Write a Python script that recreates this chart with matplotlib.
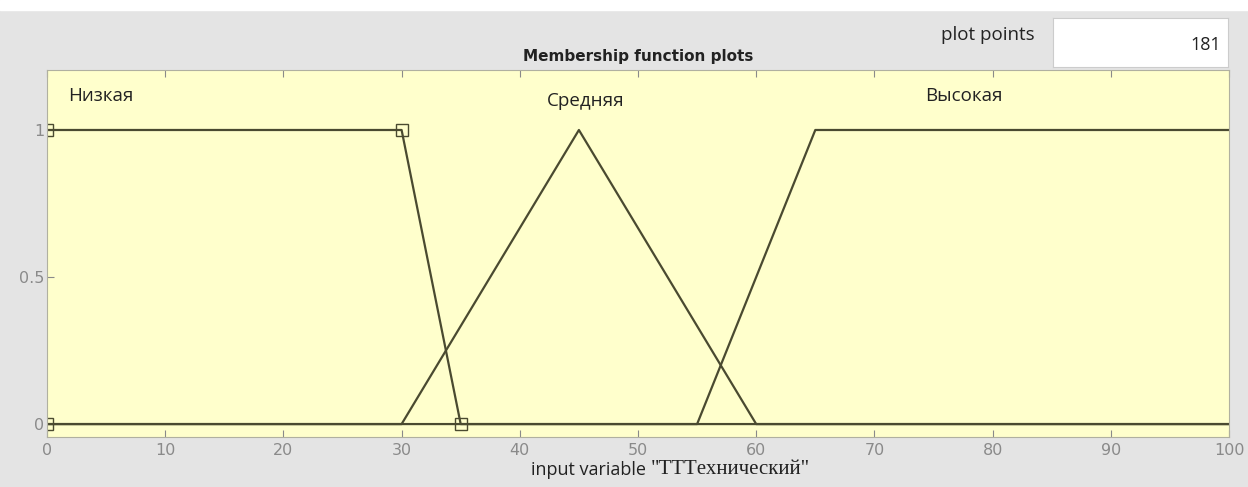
import matplotlib.pyplot as plt

# membership functions of input variable (x breakpoints, y values)
low_x = [0, 0, 30, 35, 100]
low_y = [1, 1, 1, 0, 0]
mid_x = [0, 30, 45, 60, 100]
mid_y = [0, 0, 1, 0, 0]
high_x = [0, 55, 65, 100]
high_y = [0, 0, 1, 1]

# selected MF vertices (shown with square markers)
sel_x = [0, 30, 35, 0]
sel_y = [1, 1, 0, 0]

mf_names = ["Низкая", "Средняя", "Высокая"]
mf_label_x = [1.8, 42.3, 74.3]
mf_label_y = [1.1, 1.08, 1.1]

x_ticks = [0, 10, 20, 30, 40, 50, 60, 70, 80, 90, 100]
y_ticks = [0, 0.5, 1]
y_tick_labels = ["0", "0.5", "1"]

line_color = "#4a4a30"
tick_color = "#8a8a8a"

fig = plt.figure(figsize=(12.48, 4.87), dpi=100, facecolor="#e4e4e4")
ax = fig.add_axes([47 / 1248, 1 - 437 / 487, (1229 - 47) / 1248, (437 - 70) / 487])
ax.set_facecolor("#ffffcc")

ax.plot(low_x, low_y, color=line_color, lw=1.6)
ax.plot(mid_x, mid_y, color=line_color, lw=1.6)
ax.plot(high_x, high_y, color=line_color, lw=1.6)
ax.plot(sel_x, sel_y, ls="none", marker="s", ms=8, mfc="none",
        mec=line_color, mew=1.0)

for name, lx, ly in zip(mf_names, mf_label_x, mf_label_y):
    ax.text(lx, ly, name, fontsize=13.5, color="#222222", family="Open Sans")

ax.set_xlim(0, 100)
ax.set_ylim(-0.044, 1.204)
ax.set_xticks(x_ticks)
ax.set_yticks(y_ticks)
ax.set_yticklabels(y_tick_labels)
ax.tick_params(direction="in", colors=tick_color, labelcolor=tick_color,
               labelsize=11.5, top=True, right=False, length=5)
ax.tick_params(axis="x", pad=4)
ax.tick_params(axis="y", pad=2)
for s in ax.spines.values():
    s.set_color("#b0b0a0")

# x label: sans part plus serif part
fig.text(651 / 1248, 1 - 470 / 487, "input variable ", ha="right", va="center",
         fontsize=13, color="#222222", family="Open Sans")
fig.text(651 / 1248, 1 - 470 / 487, '"TTTехнический"', ha="left", va="center",
         fontsize=15, color="#222222", family="Liberation Serif")

fig.text(638 / 1248, 1 - 56 / 487, "Membership function plots", ha="center",
         va="center", fontsize=11, fontweight="bold", color="#222222")
fig.text(988 / 1248, 1 - 35 / 487, "plot points", ha="center", va="center",
         fontsize=13.5, color="#222222", family="Open Sans")

box = fig.add_axes([1053 / 1248, 1 - 67 / 487, (1228 - 1053) / 1248, 49 / 487])
box.set_xticks([])
box.set_yticks([])
box.set_facecolor("white")
for s in box.spines.values():
    s.set_color("#cccccc")
box.text(0.96, 0.45, "181", ha="right", va="center", fontsize=13,
         transform=box.transAxes, family="Open Sans", color="#222222")

# white strip at the very top
fig.patches.append(plt.Rectangle((0, 1 - 10 / 487), 1, 10 / 487,
                                 transform=fig.transFigure, color="white", zorder=-1))

fig.savefig("out.png", dpi=100, facecolor=fig.get_facecolor())
